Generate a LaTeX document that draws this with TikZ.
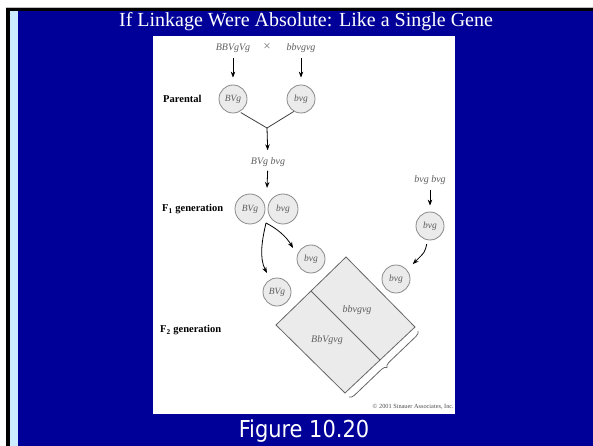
\documentclass[tikz,border=0pt]{standalone}
\usepackage{fontspec}
\setmainfont{Liberation Serif}
\newfontfamily\figfont{DejaVu Sans Condensed}
\usetikzlibrary{arrows.meta,decorations.pathreplacing,calc}
\definecolor{slideblue}{HTML}{000099}
\definecolor{stripe}{HTML}{CCECFF}
\definecolor{lbl}{HTML}{5E5E5E}
\definecolor{circfill}{HTML}{EBEBEB}
\definecolor{circedge}{HTML}{8A8A8A}
\definecolor{boxedge}{HTML}{666666}
\begin{document}
\begin{tikzpicture}[x=1pt,y=-1pt,
  geno/.style={font=\fontsize{10}{11}\selectfont\itshape, text=lbl, inner sep=0pt},
  gen/.style={font=\fontsize{10.5}{12}\selectfont\bfseries, inner sep=0pt, anchor=west},
  gam/.style={circle, draw=circedge, fill=circfill, line width=0.8pt, minimum size=28pt,
    inner sep=0pt, font=\fontsize{9.5}{10}\selectfont\itshape, text=lbl},
  bgam/.style={gam, minimum size=30pt},
  arr/.style={-{Stealth[length=6pt,width=4.5pt]}, line width=0.8pt, black},
  ln/.style={line width=0.8pt, black!75},
  cell/.style={fill=circfill, draw=boxedge, line width=0.8pt, line join=miter},
]
\useasboundingbox (0,0) rectangle (593,446);
% slide background
\fill[white] (0,0) rectangle (593,446);
\draw[gray!50, line width=0.8pt] (6,7.4) -- (593,7.4);
\fill[slideblue] (6,8) rectangle (593,446);
\fill[black] (6,8) rectangle (593,11);
\fill[black] (6,8) rectangle (9.6,446);
\fill[stripe] (10,11) rectangle (17.5,446);
\fill[white] (153,36) rectangle (455,414);

% titles
\node[text=white, font=\fontsize{20}{22}\selectfont, inner sep=0pt, anchor=base] (title) at (306,27)
  {If Linkage Were Absolute: Like a Single Gene};
\node[text=white, font=\figfont\fontsize{23.3}{26}\selectfont, inner sep=0pt, anchor=base] (fig) at (304,437)
  {Figure 10.20};

% generation labels
\node[gen] (parental) at (163,99) {Parental};
\node[gen] (f1lab) at (162,209) {F\textsubscript{1} generation};
\node[gen] (f2lab) at (160,330) {F\textsubscript{2} generation};

% parental cross
\node[geno] (pa) at (233,48) {BBVgVg};
\node[geno, font=\fontsize{13}{13}\selectfont, text=black!55] (cross) at (267,47) {×};
\node[geno] (pb) at (301,48) {bbvgvg};
\node[gam] (p1) at (233,99) {BVg};
\node[gam] (p2) at (301,99) {bvg};
\draw[arr, shorten <=5pt, shorten >=7pt] (pa) -- (p1);
\draw[arr, shorten <=5pt, shorten >=7pt] (pb) -- (p2);
\coordinate (join) at (267,128);
\draw[ln, shorten <=1.5pt] (p1.-63) -- (join) -- (p2.-120);
\node[geno] (f1txt) at (268,162) {BVg bvg};
\draw[arr, shorten >=7pt] (join) -- (f1txt);

% F1
\node[bgam] (f1a) at (250,209) {BVg};
\node[bgam] (f1b) at (283,209) {bvg};
\coordinate (f1gap) at (267,188);
\draw[arr, shorten <=4pt] (f1txt) -- (f1gap);

% gametes from F1
\node[gam] (g1) at (311,259) {bvg};
\node[gam] (g2) at (277,292) {BVg};
\coordinate (fork) at (266,223);
\draw[arr] (fork) .. controls (276,228) and (286,236) .. (293,248);
\draw[arr] (fork) .. controls (262,240) and (259,258) .. (267,273);

% test cross partner
\node[geno] (rtxt) at (430,180) {bvg bvg};
\node[gam] (rg) at (430,226) {bvg};
\draw[arr, shorten <=5pt, shorten >=6pt] (rtxt) -- (rg);
\node[gam] (g3) at (396,279) {bvg};
\draw[arr, shorten <=4pt, shorten >=8pt] (rg.-100) .. controls (425,252) .. (g3.40);

% F2 square
\coordinate (L) at (276,325);
\coordinate (T) at (346,257);
\coordinate (R) at (415,327);
\coordinate (B) at (345,393);
\path[cell] (L) -- (T) -- (R) -- (B) -- cycle;
\draw[boxedge, line width=0.8pt] ($(L)!0.5!(T)$) -- ($(R)!0.5!(B)$);
\node[geno] (c1) at (357,310) {bbvgvg};
\node[geno] (c2) at (327,340) {BbVgvg};
\draw[boxedge, line width=0.8pt, decorate, decoration={brace, amplitude=5pt}]
  (418,331) -- (349,397);

% copyright
\node[font=\fontsize{6.3}{7}\selectfont, text=black!70, anchor=east, inner sep=0pt] (copy) at (454,407)
  {© 2001 Sinauer Associates, Inc.};
\end{tikzpicture}
\end{document}
